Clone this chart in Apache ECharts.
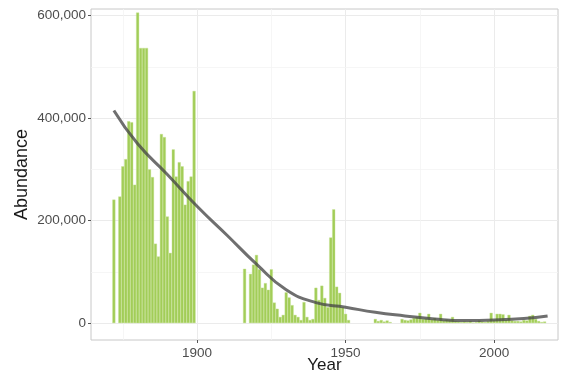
<!DOCTYPE html>
<html>
<head>
<meta charset="utf-8">
<script src="https://cdn.jsdelivr.net/npm/echarts@6/dist/echarts.min.js"></script>
<style>
  html, body { margin: 0; padding: 0; background: #fff; }
  #chart { width: 561px; height: 372px; }
</style>
</head>
<body>
<div id="chart"></div>
<script>
// yearly abundance (bars)
const years = [
  1872, 1874, 1875, 1876, 1877, 1878, 1879, 1880, 1881, 1882, 1883, 1884, 1885, 1886, 1887,
  1888, 1889, 1890, 1891, 1892, 1893, 1894, 1895, 1896, 1897, 1898, 1899,
  1916, 1918, 1919, 1920, 1921, 1922, 1923, 1924, 1925, 1926, 1927, 1928, 1929, 1930,
  1931, 1932, 1933, 1934, 1935, 1936, 1937, 1938, 1939, 1940, 1941, 1942, 1943, 1944,
  1945, 1946, 1947, 1948, 1949, 1950, 1951,
  1960, 1961, 1962, 1963, 1964, 1965,
  1969, 1970, 1971, 1972, 1973, 1974, 1975, 1976, 1977, 1978, 1979, 1980, 1981, 1982,
  1983, 1984, 1985, 1986, 1987, 1988, 1989, 1990, 1991, 1992, 1993, 1994, 1995, 1996,
  1997, 1998, 1999, 2000, 2001, 2002, 2003, 2004, 2005, 2006, 2007, 2008, 2009, 2010,
  2011, 2012, 2013, 2014, 2015, 2016, 2017
];
const abundance = [
  241000, 247000, 306000, 320000, 394000, 392000, 270000, 606000, 537000, 537000, 537000, 300000, 285000, 155000, 130000,
  369000, 363000, 208000, 137000, 339000, 286000, 314000, 306000, 231000, 277000, 286000, 453000,
  106000, 96000, 114000, 133000, 105000, 69000, 78000, 65000, 105000, 40000, 28000, 12000, 16000, 60000,
  50000, 35000, 16000, 12000, 6000, 41000, 12000, 6000, 8000, 69000, 45000, 73000, 49000, 31000,
  167000, 222000, 71000, 59000, 31000, 18000, 6000,
  8000, 4000, 6000, 3000, 5000, 2000,
  8000, 6000, 5000, 7000, 10000, 12000, 20000, 8000, 9000, 18000, 7000, 10000, 6000, 18000,
  5000, 7000, 6000, 12000, 4000, 3000, 2000, 3000, 2000, 4000, 1000, 2000, 5000, 3000,
  2000, 4000, 20000, 6000, 18000, 18000, 17000, 6000, 16000, 5000, 4000, 4000, 3000, 6000,
  5000, 14000, 16000, 8000, 4000, 2000, 3000
];

// smoothed trend
const trendYears = [1872, 1880, 1890, 1900, 1910, 1920, 1930, 1940, 1950, 1960, 1970, 1980, 1990, 2000, 2010, 2018];
const trendValues = [415000, 350000, 290000, 228000, 172000, 115000, 65000, 40000, 31000, 21000, 14000, 8000, 5000, 6000, 9000, 14000];

const xTicks = [1900, 1950, 2000];
const xMinor = [1875, 1925, 1975];
const yTicks = [0, 200000, 400000, 600000];
const yMinor = [100000, 300000, 500000];

const chart = echarts.init(document.getElementById('chart'));

const gridColor = '#ebebeb';

const option = {
  animation: false,
  grid: {
    left: 91, right: 3, top: 9, bottom: 32,
    outerBoundsMode: 'none',
    containLabel: false,
    show: true,
    borderColor: '#c8c8c8',
    borderWidth: 1,
    backgroundColor: 'transparent'
  },
  xAxis: {
    type: 'value',
    min: 1864.3,
    max: 2021.5,
    name: 'Year',
    nameLocation: 'middle',
    nameGap: 17,
    nameMoveOverlap: false,
    nameTextStyle: { fontFamily: 'Liberation Sans', fontSize: 17, color: '#1a1a1a' },
    axisLine: { show: false, onZero: false },
    axisTick: { show: true, length: 3, lineStyle: { color: '#555' }, customValues: xTicks },
    axisLabel: {
      customValues: xTicks, fontFamily: 'Liberation Sans', fontSize: 13.5, color: '#4d4d4d', margin: 6,
      formatter: v => String(v)
    },
    splitLine: { show: true, lineStyle: { color: gridColor, width: 1 } }
  },
  yAxis: {
    type: 'value',
    min: -33000,
    max: 613000,
    name: 'Abundance',
    nameLocation: 'middle',
    nameGap: 60,
    nameMoveOverlap: false,
    nameTextStyle: { fontFamily: 'Liberation Sans', fontSize: 18, color: '#1a1a1a' },
    axisLine: { show: false, onZero: false },
    axisTick: { show: true, length: 3, lineStyle: { color: '#555' }, customValues: yTicks },
    axisLabel: {
      customValues: yTicks,
      fontFamily: 'Liberation Sans', fontSize: 13.5, color: '#4d4d4d', margin: 5,
      formatter: v => v.toLocaleString('en-US')
    },
    splitLine: { show: true, lineStyle: { color: gridColor, width: 1 } }
  },
  series: [
    {
      type: 'bar',
      data: years.map((y, i) => [y, abundance[i]]),
      barWidth: 3,
      itemStyle: { color: '#a2cd58', borderColor: '#c6e193', borderWidth: 0.4 },
      z: 3,
      markLine: {
        silent: true,
        symbol: 'none',
        label: { show: false },
        lineStyle: { color: '#f4f4f4', width: 0.8, type: 'solid' },
        data: xMinor.map(v => ({ xAxis: v })).concat(yMinor.map(v => ({ yAxis: v }))),
        z: 1
      }
    },
    {
      type: 'line',
      data: trendYears.map((y, i) => [y, trendValues[i]]),
      smooth: 0.5,
      showSymbol: false,
      lineStyle: { color: 'rgba(70,70,70,0.78)', width: 3 },
      z: 5
    }
  ]
};

chart.setOption(option);
</script>
</body>
</html>
